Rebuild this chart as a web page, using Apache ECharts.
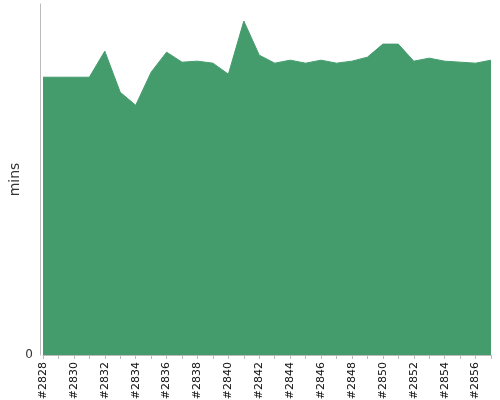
<!DOCTYPE html>
<html><head><meta charset="utf-8">
<script src="https://cdn.jsdelivr.net/npm/echarts@6/dist/echarts.min.js"></script>
<style>html,body{margin:0;padding:0;background:#fff}#c{width:500px;height:400px}</style>
</head><body><div id="c"></div>
<script>
const categories = ['#2828','#2829','#2830','#2831','#2832','#2833','#2834','#2835','#2836','#2837','#2838','#2839','#2840','#2841','#2842','#2843','#2844','#2845','#2846','#2847','#2848','#2849','#2850','#2851','#2852','#2853','#2854','#2855','#2856','#2857'];
const mins = [27.7,27.7,27.7,27.7,30.3,26.2,24.9,28.2,30.2,29.2,29.3,29.1,28.0,33.3,29.9,29.1,29.4,29.1,29.4,29.1,29.3,29.7,31.0,31.0,29.3,29.6,29.3,29.2,29.1,29.4];
const yTicks = [0];

const chart = echarts.init(document.getElementById('c'), null, {renderer:'canvas'});
chart.setOption({
  animation:false,
  grid:{left:43,right:9,top:4,bottom:45,containLabel:false,outerBoundsMode:'none'},
  xAxis:{
    type:'category', data:categories, boundaryGap:false,
    axisLine:{show:true,lineStyle:{color:'#bbb'}},
    axisTick:{show:true,interval:0,length:4,lineStyle:{color:'#bbb'}},
    axisLabel:{interval:1,rotate:90,fontSize:11,color:'#111',fontFamily:'DejaVu Sans',margin:7}
  },
  yAxis:{
    type:'value', min:0, max:35, interval:35, offset:3,
    name:'mins', nameLocation:'middle', nameGap:18, nameMoveOverlap:false,
    nameTextStyle:{fontSize:14,color:'#333',fontFamily:'DejaVu Sans'},
    axisLine:{show:true,lineStyle:{color:'#bbb'}},
    axisTick:{show:false},
    splitLine:{show:false},
    axisLabel:{showMaxLabel:false,fontSize:12,color:'#333',fontFamily:'DejaVu Sans',margin:7,
      formatter:v=>yTicks.includes(v)?String(v):''}
  },
  series:[{
    type:'line', data:mins, symbol:'none',
    lineStyle:{width:1,color:'#449C6D'},
    areaStyle:{color:'#449C6D',opacity:1},
    itemStyle:{color:'#449C6D'}
  }]
});
</script></body></html>
